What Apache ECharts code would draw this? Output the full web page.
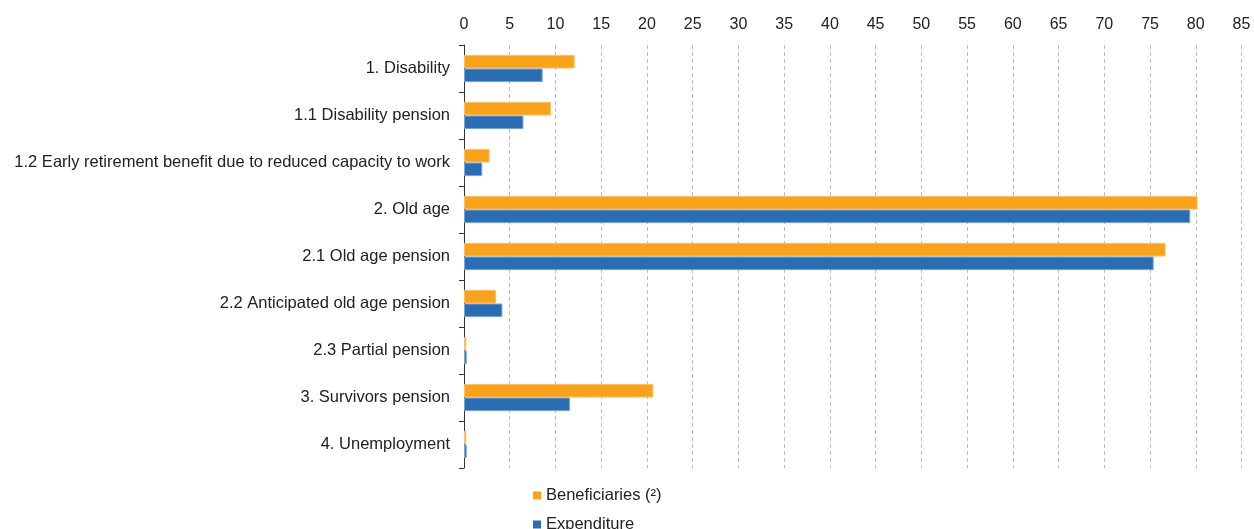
<!DOCTYPE html>
<html><head><meta charset="utf-8">
<script src="https://cdn.jsdelivr.net/npm/echarts@6/dist/echarts.min.js"></script>
<style>html,body{margin:0;padding:0;background:#fff}#c{width:1254px;height:529px}</style>
</head><body><div id="c"></div>
<script>
const categories = ["1. Disability","1.1 Disability pension","1.2 Early retirement benefit due to reduced capacity to work","2. Old age","2.1 Old age pension","2.2 Anticipated old age pension","2.3 Partial pension","3. Survivors pension","4. Unemployment"];
const beneficiaries = [12.1, 9.5, 2.8, 80.2, 76.7, 3.5, 0.25, 20.7, 0.25];
const expenditure = [8.6, 6.5, 2.0, 79.4, 75.4, 4.2, 0.3, 11.6, 0.3];
const seriesNames = ["Beneficiaries (²)", "Expenditure"];
const FF = 'Liberation Sans, Arial, sans-serif';
const chart = echarts.init(document.getElementById('c'));
const legendBase = {orient:'vertical',left:533,itemWidth:8,itemHeight:8,padding:0,
    icon:'rect',itemStyle:{borderWidth:0},textStyle:{fontSize:16.5,color:'#222',fontFamily:FF}};
chart.setOption({
  animation:false,
  textStyle:{fontFamily:FF},
  grid:{left:464,right:12.5,top:45,bottom:61,containLabel:false},
  legend:[
    Object.assign({}, legendBase, {top:487, data:[seriesNames[0]]}),
    Object.assign({}, legendBase, {top:516, data:[seriesNames[1]]})
  ],
  xAxis:{type:'value',position:'top',min:0,max:85,interval:5,
    axisLine:{show:false},axisTick:{show:false},
    axisLabel:{fontSize:16,color:'#222',margin:12},
    splitLine:{show:true,lineStyle:{type:[4,3],color:'#bdbdbd',width:1}}},
  yAxis:{type:'category',inverse:true,data:categories,
    axisLine:{show:true,lineStyle:{color:'#333',width:1}},
    axisTick:{show:true,length:5,lineStyle:{color:'#333'}},
    axisLabel:{fontSize:16.5,color:'#222',margin:14}},
  series:[
    {name:seriesNames[0],type:'bar',data:beneficiaries,barGap:'0%',barCategoryGap:'42%',
     itemStyle:{color:'#F9A21B',borderColor:'#FBC066',borderWidth:1}},
    {name:seriesNames[1],type:'bar',data:expenditure,
     itemStyle:{color:'#2B6DB3',borderColor:'#7AA6D6',borderWidth:1}}
  ]
});
</script></body></html>
